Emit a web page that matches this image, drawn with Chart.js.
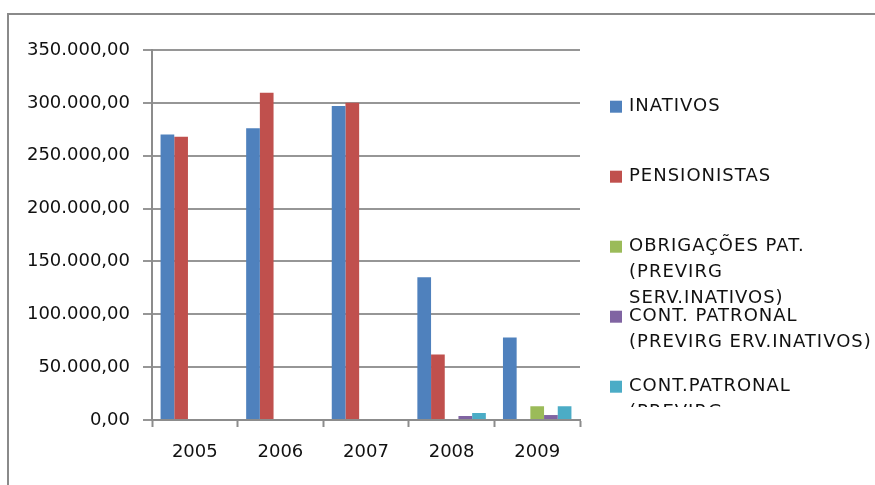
<!DOCTYPE html>
<html>
<head>
<meta charset="utf-8">
<script src="https://cdn.jsdelivr.net/npm/chart.js@4.4.1/dist/chart.umd.min.js"></script>
<style>
  html, body { margin: 0; padding: 0; background: #fff; }
  canvas { display: block; }
</style>
</head>
<body>
<canvas id="chartAnual" width="875" height="485"></canvas>
<script>
Chart.defaults.animation = false;
Chart.defaults.font.family = "'DejaVu Sans', sans-serif";
Chart.defaults.font.size = 18;
Chart.defaults.color = '#111';

const anos = ['2005', '2006', '2007', '2008', '2009'];

const inativos = [270000, 276000, 297000, 135000, 78000];
const pensionistas = [268000, 309500, 300000, 62000, null];
const obrigacoes = [null, null, null, null, 13000];
const contPatronal = [null, null, null, 3800, 4700];
const contPatronal2 = [null, null, null, 6600, 13000];

const yTicks = [0, 50000, 100000, 150000, 200000, 250000, 300000, 350000];

// 350000 -> "350.000,00"
function formatBR(v) {
  const inteiro = Math.round(v).toString().replace(/\B(?=(\d{3})+(?!\d))/g, '.');
  return inteiro + ',00';
}

// legenda lateral, com quebras de linha e recortada na parte de baixo
const sideLegend = {
  id: 'sideLegend',
  afterDraw(chart) {
    const ctx = chart.ctx;
    ctx.save();
    ctx.beginPath();
    ctx.rect(600, 0, 275, 407);
    ctx.clip();
    ctx.font = "18px 'DejaVu Sans', sans-serif";
    ctx.letterSpacing = '1px';
    ctx.textBaseline = 'middle';
    ctx.textAlign = 'left';
    chart.data.datasets.forEach((ds, i) => {
      const y0 = 106.7 + i * 70;
      ctx.fillStyle = ds.backgroundColor;
      ctx.fillRect(610, y0 - 6, 12, 12);
      ctx.fillStyle = '#111';
      ds.label.split('\n').forEach((linha, k) => {
        ctx.fillText(linha, 629, y0 + k * 25.7);
      });
    });
    ctx.restore();
  }
};

const moldura = {
  id: 'moldura',
  beforeDraw(chart) {
    const ctx = chart.ctx;
    ctx.save();
    ctx.strokeStyle = '#8a8a8a';
    ctx.lineWidth = 2;
    ctx.strokeRect(8, 14, 900, 500);
    ctx.restore();
  }
};

const ctx = document.getElementById('chartAnual');

new Chart(ctx, {
  type: 'bar',
  data: {
    labels: anos,
    datasets: [
      { label: 'INATIVOS', data: inativos, backgroundColor: '#4F81BD' },
      { label: 'PENSIONISTAS', data: pensionistas, backgroundColor: '#C0504D' },
      { label: 'OBRIGAÇÕES PAT.\n(PREVIRG\nSERV.INATIVOS)', data: obrigacoes, backgroundColor: '#9BBB59' },
      { label: 'CONT. PATRONAL\n(PREVIRG ERV.INATIVOS)', data: contPatronal, backgroundColor: '#8064A2' },
      { label: 'CONT.PATRONAL\n(PREVIRG', data: contPatronal2, backgroundColor: '#4BACC6' }
    ]
  },
  options: {
    responsive: false,
    animation: false,
    layout: { padding: { top: 50, right: 295, left: 0, bottom: 0 } },
    datasets: {
      bar: { categoryPercentage: 0.8, barPercentage: 1.0, borderWidth: 0 }
    },
    plugins: {
      legend: { display: false },
      tooltip: { enabled: false }
    },
    scales: {
      x: {
        grid: {
          drawOnChartArea: false,
          drawTicks: true,
          tickLength: 7,
          tickColor: '#8c8c8c',
          tickWidth: 2
        },
        border: { color: '#8c8c8c', width: 2 },
        ticks: { padding: 15, color: '#111' },
        afterFit(scale) { scale.height = 65; }
      },
      y: {
        min: 0,
        max: 350000,
        afterBuildTicks(scale) {
          scale.ticks = yTicks.map(v => ({ value: v }));
        },
        ticks: {
          padding: 13,
          color: '#111',
          callback: (v) => formatBR(v)
        },
        grid: {
          color: '#969696',
          lineWidth: 2,
          tickLength: 9,
          tickColor: '#969696'
        },
        border: { color: '#8c8c8c', width: 2 },
        afterFit(scale) { scale.width = 152; }
      }
    }
  },
  plugins: [moldura, sideLegend]
});
</script>
</body>
</html>
